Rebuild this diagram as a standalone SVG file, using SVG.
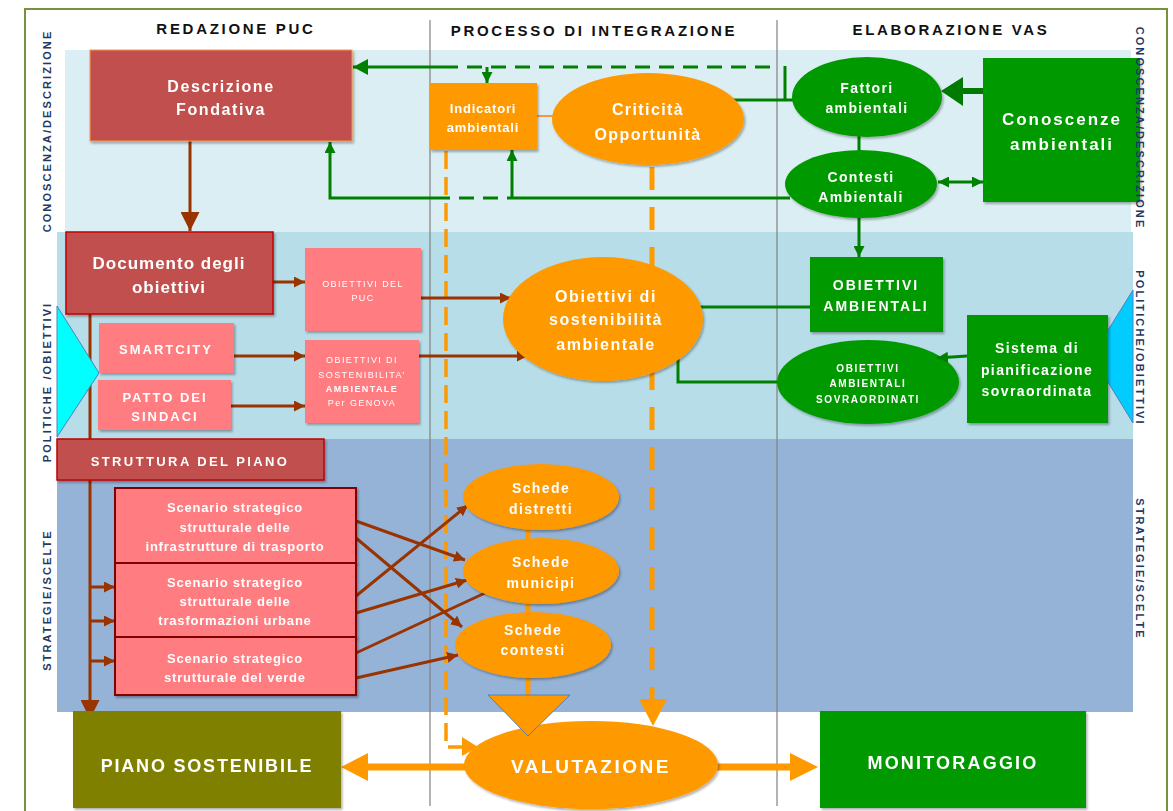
<svg xmlns="http://www.w3.org/2000/svg" width="1173" height="811" viewBox="0 0 1173 811">
<style>
.t{font-family:"Liberation Sans",Arial,sans-serif;font-weight:bold;text-anchor:middle;fill:#fff}
.h{font-family:"Liberation Sans",Arial,sans-serif;font-weight:bold;text-anchor:middle;fill:#111;font-size:15px;letter-spacing:2.7px}
.side{font-family:"Liberation Sans",Arial,sans-serif;font-weight:bold;text-anchor:middle;fill:#1F3864;font-size:11px;letter-spacing:2.1px}
.sm{font-family:"Liberation Sans",Arial,sans-serif;text-anchor:middle;fill:#fff;font-size:9px;letter-spacing:1.4px}
.g{stroke:#008000;stroke-width:3;fill:none}
.gd{stroke:#008000;stroke-width:3;fill:none;stroke-dasharray:15 9}
.b{stroke:#993300;stroke-width:3;fill:none}
.od{stroke:#FF9900;fill:none}
.red{fill:#C0504D}
.pink{fill:#FF7C80}
.grn{fill:#009900}
.org{fill:#FF9900}
.sc{fill:#FF7C80;stroke:#800000;stroke-width:2}
</style>
<defs>
<filter id="sh" x="-10%" y="-10%" width="130%" height="130%">
<feDropShadow dx="1.5" dy="2" stdDeviation="0.8" flood-color="#000" flood-opacity="0.3"/>
</filter>
<marker id="ga" markerUnits="userSpaceOnUse" markerWidth="15" markerHeight="16" viewBox="0 0 15 16" refX="15" refY="8" orient="auto"><path d="M0,0 L15,8 L0,16 z" fill="#008000"/></marker>
<marker id="gs" markerUnits="userSpaceOnUse" markerWidth="11" markerHeight="11" viewBox="0 0 10 10" refX="10" refY="5" orient="auto"><path d="M0,0 L10,5 L0,10 z" fill="#008000"/></marker>
<marker id="gst" markerUnits="userSpaceOnUse" markerWidth="11" markerHeight="11" viewBox="0 0 10 10" refX="0" refY="5" orient="auto"><path d="M10,0 L0,5 L10,10 z" fill="#008000"/></marker>
<marker id="ba" markerUnits="userSpaceOnUse" markerWidth="11" markerHeight="11" viewBox="0 0 10 10" refX="10" refY="5" orient="auto"><path d="M0,0 L10,5 L0,10 z" fill="#993300"/></marker>
<marker id="bb" markerUnits="userSpaceOnUse" markerWidth="19" markerHeight="19" viewBox="0 0 10 10" refX="10" refY="5" orient="auto"><path d="M0,0 L10,5 L0,10 z" fill="#993300"/></marker>
</defs>
<rect width="1173" height="811" fill="#fff"/>
<!-- bands -->
<rect x="65" y="50" width="1066" height="182" fill="#DAEEF3"/>
<rect x="57" y="232" width="1076" height="207" fill="#B7DDE8"/>
<rect x="57" y="439" width="1076" height="273" fill="#95B3D7"/>
<!-- outer frame -->
<rect x="25" y="9" width="1142" height="812" fill="none" stroke="#76923C" stroke-width="2"/>
<!-- column separators -->
<line x1="430" y1="20" x2="430" y2="806" stroke="#808080" stroke-width="1.2"/>
<line x1="777" y1="20" x2="777" y2="806" stroke="#808080" stroke-width="1.2"/>
<!-- headers -->
<text class="h" x="236" y="34">REDAZIONE PUC</text>
<text class="h" x="594" y="36">PROCESSO DI INTEGRAZIONE</text>
<text class="h" x="951" y="35">ELABORAZIONE VAS</text>

<g id="connectors">
<!-- orange dashed -->
<path class="od" d="M446,151 V747 H463" stroke-width="3.5" stroke-dasharray="18 8"/>
<polygon points="462,737 478,747 462,756" fill="#FF9900"/>
<line class="od" x1="652" y1="167" x2="652" y2="699" stroke-width="5" stroke-dasharray="23 17"/>
<polygon points="639,699 667,699 653,726" fill="#FF9900"/>
<line x1="537" y1="116" x2="556" y2="116" stroke="#F79646" stroke-width="2"/>
<line x1="528" y1="528" x2="528" y2="540" stroke="#FF9900" stroke-width="5"/>
<line x1="528" y1="602" x2="528" y2="615" stroke="#FF9900" stroke-width="5"/>
<line x1="528" y1="676" x2="528" y2="697" stroke="#FF9900" stroke-width="5"/>
<!-- green -->
<line class="gd" x1="443" y1="67" x2="777" y2="67"/>
<line class="g" x1="443" y1="67" x2="353" y2="67" marker-end="url(#ga)"/>
<line class="g" x1="487" y1="67" x2="487" y2="83" stroke-width="2" marker-end="url(#gs)"/>
<line class="g" x1="785" y1="66" x2="785" y2="100"/>
<line class="g" x1="728" y1="100" x2="810" y2="100"/>
<line class="gd" x1="435" y1="198" x2="512" y2="198"/>
<path class="g" d="M435,198 H330 V142" marker-end="url(#gs)"/>
<line class="g" x1="512" y1="198" x2="790" y2="198"/>
<line class="g" x1="512" y1="198" x2="512" y2="150" marker-end="url(#gs)"/>
<line x1="984" y1="91" x2="960" y2="91" stroke="#007A00" stroke-width="6"/>
<polygon points="963,77 963,106 941,91" fill="#007A00"/>
<line class="g" x1="938" y1="182" x2="983" y2="182" marker-start="url(#gst)" marker-end="url(#gs)"/>
<line class="g" x1="859" y1="136" x2="859" y2="152"/>
<line class="g" x1="859" y1="217" x2="859" y2="257" marker-end="url(#gs)"/>
<line class="g" x1="815" y1="307" x2="671" y2="307" marker-end="url(#gs)"/>
<path class="g" d="M786,382 H678 V341" marker-end="url(#gs)"/>
<!-- brown -->
<line class="b" x1="190" y1="141" x2="190" y2="231" stroke-width="4" marker-end="url(#bb)"/>
<line class="b" x1="273" y1="282" x2="305" y2="282" marker-end="url(#ba)"/>
<line class="b" x1="234" y1="356" x2="305" y2="356" marker-end="url(#ba)"/>
<line class="b" x1="231" y1="406" x2="305" y2="406" marker-end="url(#ba)"/>
<line class="b" x1="421" y1="298" x2="511" y2="298" marker-end="url(#ba)"/>
<line class="b" x1="413" y1="356" x2="528" y2="356" marker-end="url(#ba)"/>
<line class="b" x1="90" y1="314" x2="90" y2="440" stroke-width="4"/>
<line class="b" x1="90" y1="480" x2="90" y2="719" stroke-width="4" marker-end="url(#bb)"/>
<line class="b" x1="90" y1="587" x2="115" y2="587" marker-end="url(#ba)"/>
<line class="b" x1="90" y1="621" x2="115" y2="621" marker-end="url(#ba)"/>
<line class="b" x1="90" y1="661" x2="115" y2="661" marker-end="url(#ba)"/>
<line class="b" x1="356" y1="521" x2="465" y2="560" marker-end="url(#ba)"/>
<line class="b" x1="356" y1="538" x2="462" y2="627" marker-end="url(#ba)"/>
<line class="b" x1="356" y1="596" x2="468" y2="505" marker-end="url(#ba)"/>
<line class="b" x1="356" y1="613" x2="467" y2="580" marker-end="url(#ba)"/>
<line class="b" x1="356" y1="653" x2="485" y2="593"/>
<line class="b" x1="356" y1="678" x2="458" y2="655" marker-end="url(#ba)"/>
<!-- bottom orange double arrows -->
<line x1="466" y1="767" x2="366" y2="767" stroke="#FF9900" stroke-width="7"/>
<polygon points="368,753 341,767 368,781" fill="#FF9900"/>
<line x1="716" y1="767" x2="792" y2="767" stroke="#FF9900" stroke-width="7"/>
<polygon points="790,753 818,767 790,781" fill="#FF9900"/>
</g>

<g id="tri-left"><polygon points="57,306 99,373 57,437" fill="#00FFFF" stroke="#4F81BD" stroke-width="1"/></g>
<g id="tri-right"><polygon points="1133,290 1092,356 1133,423" fill="#00CCFF" stroke="#4F81BD" stroke-width="1"/></g>

<g id="descrizione" filter="url(#sh)">
<rect x="90" y="50" width="262" height="91" class="red" stroke="#F79646" stroke-width="1"/>
<text class="t" x="221" y="92" font-size="16" letter-spacing="1.6">Descrizione</text>
<text class="t" x="221" y="115" font-size="16" letter-spacing="1.6">Fondativa</text>
</g>
<g id="documento" filter="url(#sh)">
<rect x="66" y="232" width="207" height="82" class="red" stroke="#C00000" stroke-width="1.5"/>
<text class="t" x="169" y="269" font-size="17" letter-spacing="1">Documento degli</text>
<text class="t" x="169" y="293" font-size="17" letter-spacing="1">obiettivi</text>
</g>
<g id="obiettivi-puc" filter="url(#sh)">
<rect x="305" y="248" width="116" height="83" class="pink"/>
<text class="sm" x="363" y="287">OBIETTIVI DEL</text>
<text class="sm" x="363" y="301">PUC</text>
</g>
<g id="smartcity" filter="url(#sh)">
<rect x="99" y="323" width="135" height="50" class="pink"/>
<text class="t" x="166" y="354" font-size="13" letter-spacing="2">SMARTCITY</text>
</g>
<g id="patto" filter="url(#sh)">
<rect x="98" y="380" width="133" height="50" class="pink"/>
<text class="t" x="165" y="402" font-size="13" letter-spacing="2">PATTO DEI</text>
<text class="t" x="165" y="421" font-size="13" letter-spacing="2">SINDACI</text>
</g>
<g id="obiettivi-sost-genova" filter="url(#sh)">
<rect x="305" y="340" width="114" height="83" class="pink"/>
<text class="sm" x="362" y="363">OBIETTIVI DI</text>
<text class="sm" x="362" y="378">SOSTENIBILITA’</text>
<text class="sm" x="362" y="392" font-weight="bold">AMBIENTALE</text>
<text class="sm" x="362" y="406">Per GENOVA</text>
</g>
<g id="struttura" filter="url(#sh)">
<rect x="57" y="439" width="267" height="41" class="red" stroke="#C00000" stroke-width="1.5"/>
<text class="t" x="190" y="466" font-size="13" letter-spacing="2.4">STRUTTURA DEL PIANO</text>
</g>
<g id="scenario-infrastrutture" filter="url(#sh)">
<rect x="115" y="488" width="241" height="75" class="sc"/>
<text class="t" x="235" y="512" font-size="13" letter-spacing="0.8">Scenario strategico</text>
<text class="t" x="235" y="532" font-size="13" letter-spacing="0.8">strutturale delle</text>
<text class="t" x="235" y="551" font-size="13" letter-spacing="0.8">infrastrutture di trasporto</text>
</g>
<g id="scenario-trasformazioni" filter="url(#sh)">
<rect x="115" y="563" width="241" height="74" class="sc"/>
<text class="t" x="235" y="587" font-size="13" letter-spacing="0.8">Scenario strategico</text>
<text class="t" x="235" y="606" font-size="13" letter-spacing="0.8">strutturale delle</text>
<text class="t" x="235" y="625" font-size="13" letter-spacing="0.8">trasformazioni urbane</text>
</g>
<g id="scenario-verde" filter="url(#sh)">
<rect x="115" y="637" width="241" height="58" class="sc"/>
<text class="t" x="235" y="663" font-size="13" letter-spacing="0.8">Scenario strategico</text>
<text class="t" x="235" y="682" font-size="13" letter-spacing="0.8">strutturale del verde</text>
</g>

<g id="indicatori" filter="url(#sh)">
<rect x="430" y="83" width="107" height="67" class="org"/>
<text class="t" x="483" y="113" font-size="13" letter-spacing="0.8">Indicatori</text>
<text class="t" x="483" y="132" font-size="13" letter-spacing="0.8">ambientali</text>
</g>
<g id="criticita" filter="url(#sh)">
<ellipse cx="648" cy="119" rx="96" ry="46" class="org"/>
<text class="t" x="648" y="115" font-size="16" letter-spacing="1.4">Criticità</text>
<text class="t" x="648" y="140" font-size="16" letter-spacing="1.4">Opportunità</text>
</g>
<g id="obiettivi-sostenibilita" filter="url(#sh)">
<ellipse cx="603" cy="319" rx="100" ry="62" class="org"/>
<text class="t" x="606" y="302" font-size="16" letter-spacing="1.6">Obiettivi di</text>
<text class="t" x="606" y="325" font-size="16" letter-spacing="1.6">sostenibilità</text>
<text class="t" x="606" y="350" font-size="16" letter-spacing="1.6">ambientale</text>
</g>
<g id="schede-distretti" filter="url(#sh)">
<ellipse cx="541" cy="497" rx="78" ry="33" class="org"/>
<text class="t" x="541" y="493" font-size="14" letter-spacing="1.4">Schede</text>
<text class="t" x="541" y="514" font-size="14" letter-spacing="1.4">distretti</text>
</g>
<g id="schede-municipi" filter="url(#sh)">
<ellipse cx="541" cy="571" rx="78" ry="33" class="org"/>
<text class="t" x="541" y="567" font-size="14" letter-spacing="1.4">Schede</text>
<text class="t" x="541" y="588" font-size="14" letter-spacing="1.4">municipi</text>
</g>
<g id="schede-contesti" filter="url(#sh)">
<ellipse cx="533" cy="645" rx="78" ry="33" class="org"/>
<text class="t" x="533" y="635" font-size="14" letter-spacing="1.4">Schede</text>
<text class="t" x="533" y="655" font-size="14" letter-spacing="1.4">contesti</text>
</g>
<g id="valutazione" filter="url(#sh)">
<ellipse cx="591" cy="765" rx="127" ry="44" class="org"/>
<text class="t" x="591" y="773" font-size="19" letter-spacing="2.5">VALUTAZIONE</text>
</g>
<g id="triangolo"><polygon points="488,695 570,695 528,736" fill="#FF9900" stroke="#4F81BD" stroke-width="1"/></g>

<g id="fattori" filter="url(#sh)">
<ellipse cx="867" cy="97" rx="75" ry="40" class="grn"/>
<text class="t" x="867" y="93" font-size="14" letter-spacing="1.4">Fattori</text>
<text class="t" x="867" y="113" font-size="14" letter-spacing="1.4">ambientali</text>
</g>
<g id="contesti" filter="url(#sh)">
<ellipse cx="861" cy="184" rx="76" ry="34" class="grn"/>
<text class="t" x="861" y="182" font-size="14" letter-spacing="1.4">Contesti</text>
<text class="t" x="861" y="202" font-size="14" letter-spacing="1.4">Ambientali</text>
</g>
<g id="conoscenze" filter="url(#sh)">
<rect x="983" y="58" width="157" height="144" class="grn"/>
<text class="t" x="1062" y="125" font-size="17" letter-spacing="2">Conoscenze</text>
<text class="t" x="1062" y="150" font-size="17" letter-spacing="2">ambientali</text>
</g>
<g id="obiettivi-ambientali" filter="url(#sh)">
<rect x="810" y="257" width="133" height="75" class="grn"/>
<text class="t" x="876" y="290" font-size="14" letter-spacing="2">OBIETTIVI</text>
<text class="t" x="876" y="311" font-size="14" letter-spacing="2">AMBIENTALI</text>
</g>
<g id="sovraordinati" filter="url(#sh)">
<ellipse cx="868" cy="382" rx="91" ry="42" class="grn"/>
<text class="t" x="868" y="372" font-size="10" letter-spacing="1.6">OBIETTIVI</text>
<text class="t" x="868" y="387" font-size="10" letter-spacing="1.6">AMBIENTALI</text>
<text class="t" x="868" y="403" font-size="10" letter-spacing="1.6">SOVRAORDINATI</text>
</g>
<g id="sistema" filter="url(#sh)">
<rect x="967" y="315" width="141" height="108" class="grn"/>
<text class="t" x="1037" y="353" font-size="14" letter-spacing="1.4">Sistema di</text>
<text class="t" x="1037" y="375" font-size="14" letter-spacing="1.4">pianificazione</text>
<text class="t" x="1037" y="396" font-size="14" letter-spacing="1.4">sovraordinata</text>
</g>
<g id="arrow-sistema-sovraordinati">
<line class="g" x1="967" y1="356" x2="937" y2="358" marker-end="url(#gs)"/>
</g>
<g id="piano" filter="url(#sh)">
<rect x="73" y="711" width="268" height="97" fill="#808000"/>
<text class="t" x="207" y="772" font-size="18" letter-spacing="1.8">PIANO SOSTENIBILE</text>
</g>
<g id="monitoraggio" filter="url(#sh)">
<rect x="820" y="711" width="266" height="97" class="grn"/>
<text class="t" x="953" y="769" font-size="18" letter-spacing="2.2">MONITORAGGIO</text>
</g>
<!-- side labels -->
<g id="side-labels">
<text class="side" transform="translate(51,131) rotate(-90)">CONOSCENZA/DESCRIZIONE</text>
<text class="side" transform="translate(51,382) rotate(-90)">POLITICHE /OBIETTIVI</text>
<text class="side" transform="translate(51,600) rotate(-90)">STRATEGIE/SCELTE</text>
<text class="side" transform="translate(1136,128) rotate(90)">CONOSCENZA/DESCRIZIONE</text>
<text class="side" transform="translate(1136,348) rotate(90)">POLITICHE/OBIETTIVI</text>
<text class="side" transform="translate(1136,569) rotate(90)">STRATEGIE/SCELTE</text>
</g>
</svg>
